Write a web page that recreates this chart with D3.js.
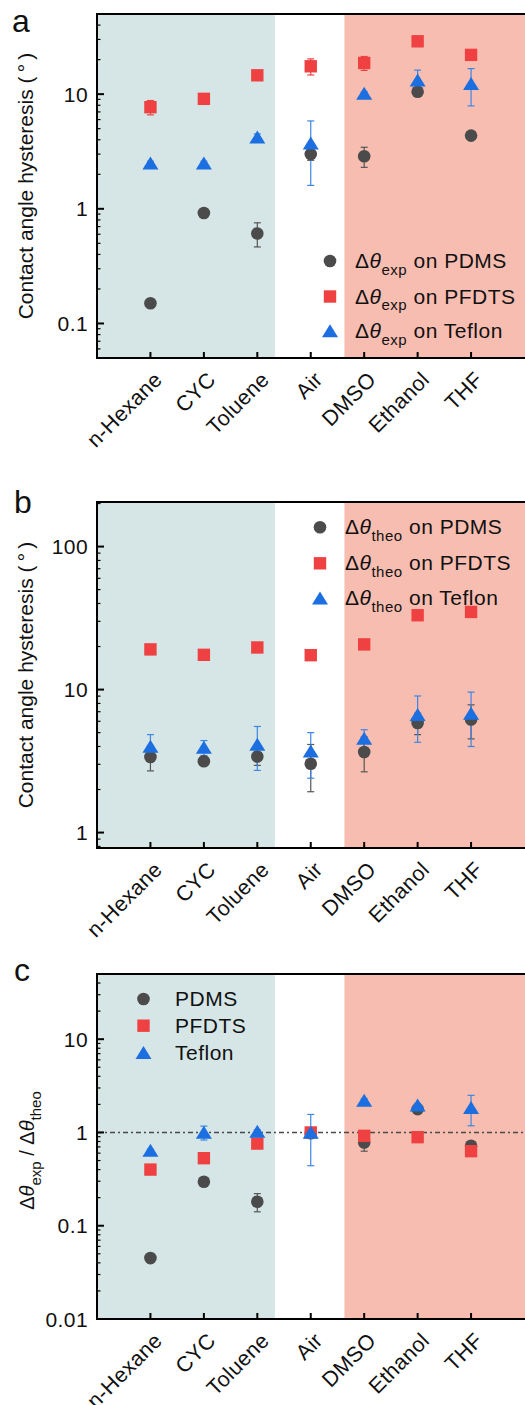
<!DOCTYPE html>
<html>
<head>
<meta charset="utf-8">
<script src="https://cdn.jsdelivr.net/npm/d3@7"></script>
<style>
  body { margin: 0; background: #fff; }
  svg { display: block; }
  text { font-family: Arial, "Liberation Sans", sans-serif; fill: #111; }
</style>
</head>
<body>
<svg id="chart" width="525" height="1405"></svg>
<script>
// ---- data -------------------------------------------------------------
const categories = ["n-Hexane", "CYC", "Toluene", "Air", "DMSO", "Ethanol", "THF"];
const categoryPos = [1, 2, 3, 4, 5, 6, 7];

// shaded solvent groups (category-axis units)
const nonpolarSpan = [0, 3.33];
const polarSpan = [4.63, 8.2];

// (a) measured hysteresis, degrees
const expPDMS      = [0.15, 0.92, 0.61, 3.0, 2.87, 10.5, 4.35];
const expPDMSErr   = [0.01, 0.05, 0.145, 0.35, 0.57, 0.5, 0.3];
const expPFDTS     = [7.7, 9.1, 14.6, 17.5, 18.7, 28.9, 22.0];
const expPFDTSErr  = [1.1, 0.3, 0.5, 2.8, 2.6, 0.8, 0.8];
const expTeflon    = [2.5, 2.5, 4.2, 3.72, 10.1, 13.2, 12.3];
const expTeflonErr = [0.1, 0.1, 0.3, 2.12, 0.4, 3.0, 4.4];

// (b) theoretical hysteresis, degrees
const theoPDMS      = [3.38, 3.15, 3.4, 3.03, 3.66, 5.84, 6.17];
const theoPDMSErr   = [0.68, 0.2, 0.45, 1.1, 1.0, 1.0, 1.65];
const theoPFDTS     = [19.1, 17.5, 19.7, 17.4, 20.7, 33.1, 34.9];
const theoPFDTSErr  = [0.3, 0.3, 0.3, 0.3, 0.3, 0.3, 0.3];
const theoTeflon    = [4.0, 3.93, 4.12, 3.7, 4.54, 6.65, 6.8];
const theoTeflonErr = [0.84, 0.47, 1.4, 1.3, 0.7, 2.37, 2.8];

// (c) ratio measured / theoretical
const ratioPDMS      = [0.045, 0.296, 0.181, 0.98, 0.78, 1.78, 0.72];
const ratioPDMSErr   = [0.003, 0.02, 0.04, 0.1, 0.15, 0.1, 0.05];
const ratioPFDTS     = [0.40, 0.53, 0.76, 1.0, 0.92, 0.89, 0.63];
const ratioPFDTSErr  = [0.03, 0.02, 0.03, 0.05, 0.05, 0.03, 0.03];
const ratioTeflon    = [0.64, 1.0, 1.02, 1.0, 2.2, 1.95, 1.84];
const ratioTeflonErr = [0.02, 0.17, 0.05, 0.56, 0.1, 0.1, 0.66];
const ratioReference = 1;

const yTicksA = [0.1, 1, 10];
const yTicksB = [1, 10, 100];
const yTicksC = [0.01, 0.1, 1, 10];

// ---- styling ----------------------------------------------------------
const colors = {
  teal: "#d6e6e6",
  pink: "#f8bdb1",
  PDMS: "#4b4b4b",
  PFDTS: "#ef4141",
  Teflon: "#1b6fe0"
};
const errColors = { PDMS: "#555", PFDTS: "#e84545", Teflon: "#3d86e4" };

const svg = d3.select("#chart");
const left = 97, right = 524.5;
const x = d3.scaleLinear().domain([0, 8]).range([left, right]);

function markerPath(shape) {
  if (shape === "circle") return d3.symbol(d3.symbolCircle, Math.PI * 6.3 * 6.3)();
  if (shape === "square") return "M-6.2,-6.2H6.2V6.2H-6.2Z";
  return "M0,-6.8L8,6.2L-8,6.2Z";
}

function deltaTheta(textSel, sub, subSize, rest) {
  textSel.append("tspan").text("\u0394");
  textSel.append("tspan").attr("font-style", "italic").text("\u03b8");
  textSel.append("tspan").attr("font-size", subSize).attr("dy", 6.5).text(sub);
  if (rest !== undefined) textSel.append("tspan").attr("dy", -6.5).text(rest);
}

const panels = [
  {
    letter: "a", top: 14, bottom: 358, domain: [0.05, 50], ticks: yTicksA,
    series: [
      { key: "PDMS", shape: "circle", values: expPDMS, err: expPDMSErr },
      { key: "PFDTS", shape: "square", values: expPFDTS, err: expPFDTSErr },
      { key: "Teflon", shape: "triangle", values: expTeflon, err: expTeflonErr }
    ],
    legend: { mx: 330, tx: 355, ys: [261, 296.5, 331], sub: "exp", kind: "long" },
    letterPos: [12, 32]
  },
  {
    letter: "b", top: 502, bottom: 848, domain: [0.78, 205], ticks: yTicksB,
    series: [
      { key: "PDMS", shape: "circle", values: theoPDMS, err: theoPDMSErr },
      { key: "PFDTS", shape: "square", values: theoPFDTS, err: theoPFDTSErr },
      { key: "Teflon", shape: "triangle", values: theoTeflon, err: theoTeflonErr }
    ],
    legend: { mx: 320, tx: 345, ys: [527.3, 563.3, 598.3], sub: "theo", kind: "long" },
    letterPos: [14, 513]
  },
  {
    letter: "c", top: 974, bottom: 1319, domain: [0.01, 50], ticks: yTicksC,
    series: [
      { key: "PDMS", shape: "circle", values: ratioPDMS, err: ratioPDMSErr },
      { key: "PFDTS", shape: "square", values: ratioPFDTS, err: ratioPFDTSErr },
      { key: "Teflon", shape: "triangle", values: ratioTeflon, err: ratioTeflonErr }
    ],
    legend: { mx: 143.5, tx: 175, ys: [999, 1025.7, 1052.7], kind: "short" },
    letterPos: [14, 981],
    refLine: ratioReference
  }
];

panels.forEach(p => {
  const g = svg.append("g");
  const y = d3.scaleLog().domain(p.domain).range([p.bottom, p.top]);

  // solvent group shading
  g.append("rect").attr("x", x(nonpolarSpan[0])).attr("y", p.top)
    .attr("width", x(nonpolarSpan[1]) - x(nonpolarSpan[0])).attr("height", p.bottom - p.top)
    .attr("fill", colors.teal);
  g.append("rect").attr("x", x(polarSpan[0])).attr("y", p.top)
    .attr("width", x(polarSpan[1]) - x(polarSpan[0])).attr("height", p.bottom - p.top)
    .attr("fill", colors.pink);

  // reference line at ratio = 1
  if (p.refLine !== undefined) {
    g.append("line").attr("x1", left).attr("x2", right + 2)
      .attr("y1", y(p.refLine)).attr("y2", y(p.refLine))
      .attr("stroke", "#4a4a4a").attr("stroke-width", 1.6)
      .attr("stroke-dasharray", "5,3,2,3");
  }

  // frame
  g.append("path")
    .attr("d", `M${right + 3},${p.top}H${left}V${p.bottom}H${right + 3}`)
    .attr("fill", "none").attr("stroke", "#000").attr("stroke-width", 2);

  // y ticks: majors with labels, minors at 2..9 of each decade
  const lo = Math.floor(Math.log10(p.domain[0])), hi = Math.ceil(Math.log10(p.domain[1]));
  const minors = [];
  for (let d = lo; d < hi; d++) {
    for (let k = 2; k <= 9; k++) {
      const v = k * Math.pow(10, d);
      if (v >= p.domain[0] && v <= p.domain[1]) minors.push(v);
    }
  }
  g.selectAll(".minor").data(minors).join("line")
    .attr("x1", left).attr("x2", left + 3.5)
    .attr("y1", d => y(d)).attr("y2", d => y(d))
    .attr("stroke", "#000").attr("stroke-width", 1.2);
  g.selectAll(".major").data(p.ticks).join("line")
    .attr("x1", left - 1).attr("x2", left + 7)
    .attr("y1", d => y(d)).attr("y2", d => y(d))
    .attr("stroke", "#000").attr("stroke-width", 2);
  g.selectAll(".ylab").data(p.ticks).join("text")
    .attr("x", 88).attr("y", d => y(d)).attr("dy", "0.36em")
    .attr("text-anchor", "end").attr("font-size", 21).attr("letter-spacing", 0.4)
    .text(d => d3.format("~g")(d));

  // x ticks and rotated category labels
  g.selectAll(".xt").data(categoryPos).join("line")
    .attr("x1", d => x(d)).attr("x2", d => x(d))
    .attr("y1", p.bottom).attr("y2", p.bottom - 6)
    .attr("stroke", "#000").attr("stroke-width", 2);
  g.selectAll(".xlab").data(categories).join("text")
    .attr("text-anchor", "end").attr("font-size", 21.5).attr("letter-spacing", 0.3)
    .attr("transform", (d, i) => `translate(${x(categoryPos[i]) + 13},${p.bottom + 23}) rotate(-45)`)
    .text(d => d);

  // error bars then markers for every series
  p.series.forEach(s => {
    const eg = g.append("g").attr("stroke", errColors[s.key]).attr("stroke-width", 1.2);
    s.values.forEach((v, i) => {
      const cx = x(categoryPos[i]);
      const yTop = y(v + s.err[i]), yBot = y(Math.max(v - s.err[i], p.domain[0]));
      eg.append("line").attr("x1", cx).attr("x2", cx).attr("y1", yTop).attr("y2", yBot);
      eg.append("line").attr("x1", cx - 3.5).attr("x2", cx + 3.5).attr("y1", yTop).attr("y2", yTop);
      eg.append("line").attr("x1", cx - 3.5).attr("x2", cx + 3.5).attr("y1", yBot).attr("y2", yBot);
    });
  });
  p.series.forEach(s => {
    g.selectAll(null).data(s.values).join("path")
      .attr("d", markerPath(s.shape))
      .attr("transform", (v, i) => `translate(${x(categoryPos[i])},${y(v)})`)
      .attr("fill", colors[s.key]);
  });

  // legend
  p.series.forEach((s, i) => {
    const ly = p.legend.ys[i];
    g.append("path").attr("d", markerPath(s.shape))
      .attr("transform", `translate(${p.legend.mx},${ly})`)
      .attr("fill", colors[s.key]);
    const t = g.append("text").attr("x", p.legend.tx).attr("y", ly + 7)
      .attr("font-size", 21).attr("letter-spacing", 0.5);
    if (p.legend.kind === "long") {
      deltaTheta(t, p.legend.sub, 15, " on " + s.key);
    } else {
      t.text(s.key);
    }
  });

  // y-axis title
  const cy = (p.top + p.bottom) / 2;
  if (p.letter !== "c") {
    g.append("text").attr("font-size", 21).attr("text-anchor", "middle")
      .attr("transform", `translate(33,${cy}) rotate(-90)`)
      .text("Contact angle hysteresis (\u2009\u00b0\u2009)");
  } else {
    const t = g.append("text").attr("font-size", 20).attr("text-anchor", "middle")
      .attr("transform", `translate(34,${cy + 4}) rotate(-90)`);
    deltaTheta(t, "exp", 15, " / ");
    t.append("tspan").text("\u0394");
    t.append("tspan").attr("font-style", "italic").text("\u03b8");
    t.append("tspan").attr("font-size", 15).attr("dy", 6.5).text("theo");
  }

  // panel letter
  g.append("text").attr("x", p.letterPos[0]).attr("y", p.letterPos[1])
    .attr("font-size", 32).text(p.letter);
});
</script>
</body>
</html>
